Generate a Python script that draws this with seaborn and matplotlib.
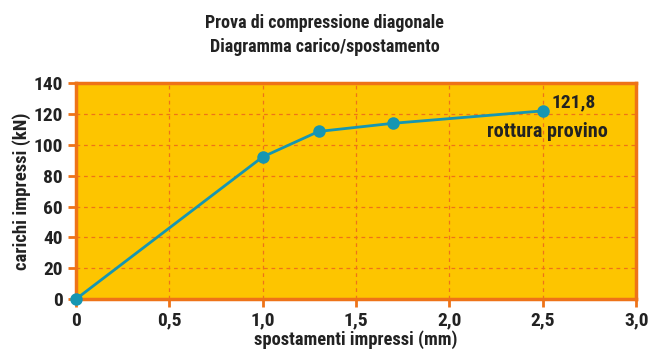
import matplotlib
matplotlib.use("Agg")
import matplotlib.pyplot as plt
import seaborn as sns
import pandas as pd

spostamenti = [0.0, 1.0, 1.3, 1.7, 2.5]
carichi = [0.0, 92.0, 108.5, 113.8, 121.8]
x_ticks = [0, 0.5, 1.0, 1.5, 2.0, 2.5, 3.0]
x_labels = ["0", "0,5", "1,0", "1,5", "2,0", "2,5", "3,0"]
y_ticks = [0, 20, 40, 60, 80, 100, 120, 140]
title = "Prova di compressione diagonale\nDiagramma carico/spostamento"
xlabel = "spostamenti impressi (mm)"
ylabel = "carichi impressi (kN)"
ann_value = "121,8"
ann_text = "rottura provino"

sns.set_theme(style="white")
plt.rcParams['font.family'] = ['Roboto Condensed', 'Asap Condensed', 'DejaVu Sans']

ORANGE = "#EE7318"
GOLD = "#FDC500"
TEAL = "#1696B2"
TXT = "#222222"

df = pd.DataFrame({"x": spostamenti, "y": carichi})
fig = plt.figure(figsize=(6.49, 3.52), dpi=100)
ax = fig.add_axes([0.1165, 0.1495, 0.864, 0.6155])
ax.set_facecolor(GOLD)
sns.lineplot(data=df, x="x", y="y", ax=ax, color=TEAL, linewidth=2,
             marker="o", markersize=9, markeredgewidth=0, markerfacecolor=TEAL,
             clip_on=False, zorder=5)
ax.set_xlim(0, 3.0)
ax.set_ylim(0, 140)
ax.set_xticks(x_ticks)
ax.set_xticklabels(x_labels)
ax.set_yticks(y_ticks)
ax.grid(True, color=ORANGE, linestyle=(0, (3, 3)), linewidth=0.9)
ax.set_axisbelow(True)
for s in ax.spines.values():
    s.set_color(ORANGE)
    s.set_linewidth(2.5)
    s.set_visible(True)
ax.tick_params(axis="both", which="major", direction="out", length=6, width=2,
               color=ORANGE, labelsize=14, labelcolor=TXT, pad=3, bottom=True, left=True)
for lab in ax.get_xticklabels() + ax.get_yticklabels():
    lab.set_fontweight("bold")
ax.set_xlabel(xlabel, fontsize=13.3, fontweight="bold", color=TXT, labelpad=0)
ax.set_ylabel(ylabel, fontsize=13.5, fontweight="bold", color=TXT, labelpad=2)
fig.text(0.5, 0.9, title, ha="center", va="center", fontsize=13,
         fontweight="bold", color=TXT, linespacing=1.45)
ax.annotate(ann_value, (spostamenti[-1], carichi[-1]), xytext=(6.5, 6),
            textcoords="offset points", fontsize=14, fontweight="bold",
            color=TXT, ha="left", va="center")
ax.annotate(ann_text, (spostamenti[-1], carichi[-1]), xytext=(-40, -15),
            textcoords="offset points", fontsize=14.5, fontweight="bold",
            color=TXT, ha="left", va="center")
fig.savefig("out.png", dpi=100, facecolor="white")
